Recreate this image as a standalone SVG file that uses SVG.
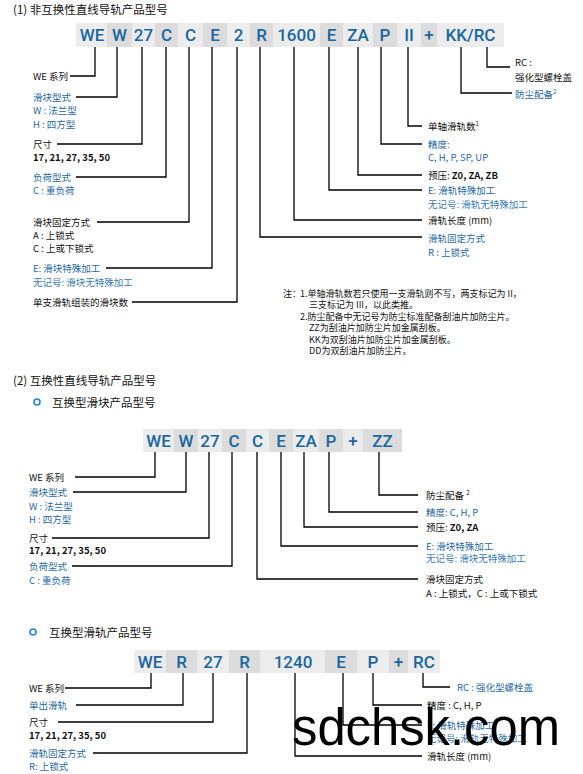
<svg xmlns="http://www.w3.org/2000/svg" width="583" height="774" viewBox="0 0 583 774">
<defs>
<style>
.bg{fill:#ffffff}
.cl{fill:#ececec}
.cd{fill:#dcdcdc}
.code{font-family:Roboto,"Liberation Sans",sans-serif;font-size:17px;font-weight:500;fill:#1a67a0;text-anchor:middle}
.t{font-family:"Noto Sans CJK SC","Noto Sans",sans-serif;font-size:9.5px;dominant-baseline:central}
.k{fill:#111111}
.b{fill:#1f6aa5}
.b2{fill:#3a7cb0}
.n{font-weight:bold}
.h{font-family:"Noto Sans CJK SC","Noto Sans",sans-serif;font-size:11.5px;fill:#111111;dominant-baseline:central}
.note{font-family:"Noto Sans CJK SC","Noto Sans",sans-serif;font-size:9px;fill:#111111;dominant-baseline:central}
.ln{fill:none;stroke:#000000;stroke-width:1.3}
.sup{font-size:6px}
.wm{font-family:"Liberation Sans",Arial,sans-serif;font-size:51px;fill:#000000}
</style>
</defs>
<rect class="bg" x="0" y="0" width="583" height="774"/>

<!-- Section 1 -->
<text id="title1" class="h" x="13" y="9">(1) 非互换性直线导轨产品型号</text>

<g id="row1-codes">
<g id="r1-WE"><rect class="cl" x="76" y="23" width="31" height="24"/><text class="code" x="92" y="41">WE</text></g>
<g id="r1-W"><rect class="cd" x="107" y="23" width="25" height="24"/><text class="code" x="119.5" y="41">W</text></g>
<g id="r1-27"><rect class="cl" x="132" y="23" width="23" height="24"/><text class="code" x="143.5" y="41">27</text></g>
<g id="r1-C1"><rect class="cd" x="155" y="23" width="23" height="24"/><text class="code" x="166.5" y="41">C</text></g>
<g id="r1-C2"><rect class="cl" x="178" y="23" width="25" height="24"/><text class="code" x="190.5" y="41">C</text></g>
<g id="r1-E"><rect class="cd" x="203" y="23" width="24" height="24"/><text class="code" x="215" y="41">E</text></g>
<g id="r1-2"><rect class="cl" x="227" y="23" width="23" height="24"/><text class="code" x="238.5" y="41">2</text></g>
<g id="r1-R"><rect class="cd" x="250" y="23" width="23" height="24"/><text class="code" x="261.5" y="41">R</text></g>
<g id="r1-1600"><rect class="cl" x="273" y="23" width="47" height="24"/><text class="code" x="296.5" y="41">1600</text></g>
<g id="r1-E2"><rect class="cd" x="320" y="23" width="23" height="24"/><text class="code" x="331.5" y="41">E</text></g>
<g id="r1-ZA"><rect class="cl" x="343" y="23" width="30" height="24"/><text class="code" x="358" y="41">ZA</text></g>
<g id="r1-P"><rect class="cd" x="373" y="23" width="24" height="24"/><text class="code" x="385" y="41">P</text></g>
<g id="r1-II"><rect class="cl" x="397" y="23" width="24" height="24"/><text class="code" x="409" y="41">II</text></g>
<g id="r1-plus"><rect class="cd" x="421" y="23" width="16" height="24"/><text class="code" x="429" y="41">+</text></g>
<g id="r1-KKRC"><rect class="cl" x="437" y="23" width="67" height="24"/><text class="code" x="470.5" y="41">KK/RC</text></g>
</g>

<g id="r1-labels">
<g id="l1-we"><text class="t k" x="33" y="76">WE 系列</text></g>
<g id="l1-type"><text class="t b" x="33" y="97">滑块型式</text><text class="t b" x="33" y="110">W : 法兰型</text><text class="t b" x="33" y="124">H : 四方型</text></g>
<g id="l1-size"><text class="t k" x="33" y="144">尺寸</text><text class="t k n" x="33" y="157">17, 21, 27, 35, 50</text></g>
<g id="l1-load"><text class="t b" x="33" y="177">负荷型式</text><text class="t b" x="33" y="190">C : 重负荷</text></g>
<g id="l1-fix"><text class="t k" x="33" y="222">滑块固定方式</text><text class="t k" x="33" y="235">A : 上锁式</text><text class="t k" x="33" y="248">C : 上或下锁式</text></g>
<g id="l1-e"><text class="t b" x="33" y="268">E: 滑块特殊加工</text><text class="t b2" x="33" y="282">无记号: 滑块无特殊加工</text></g>
<g id="l1-num"><text class="t k" x="33" y="302">单支滑轨组装的滑块数</text></g>

<g id="r1-rc"><text class="t k" x="515" y="62">RC :</text><text class="t k" x="515" y="77">强化型螺栓盖</text></g>
<g id="r1-dust"><text class="t b" x="515" y="94">防尘配备<tspan class="sup" dy="-3">2</tspan></text></g>
<g id="r1-rails"><text class="t k" x="428" y="126">单轴滑轨数<tspan class="sup" dy="-3">1</tspan></text></g>
<g id="r1-acc"><text class="t b" x="428" y="144">精度:</text><text class="t b" x="428" y="157">C, H, P, SP, UP</text></g>
<g id="r1-pre"><text class="t k" x="428" y="175">预压: <tspan class="n">Z0, ZA, ZB</tspan></text></g>
<g id="r1-e"><text class="t b" x="428" y="190">E: 滑轨特殊加工</text><text class="t b2" x="428" y="204">无记号: 滑轨无特殊加工</text></g>
<g id="r1-len"><text class="t k" x="428" y="220">滑轨长度 (mm)</text></g>
<g id="r1-rfix"><text class="t b" x="428" y="238">滑轨固定方式</text><text class="t b" x="428" y="252">R : 上锁式</text></g>
</g>

<g id="notes">
<text class="note" x="283" y="293">注：</text>
<text class="note" x="300" y="293">1.单轴滑轨数若只使用一支滑轨则不写，两支标记为 II，</text>
<text class="note" x="309" y="304.5">三支标记为 III，以此类推。</text>
<text class="note" x="300" y="316">2.防尘配备中无记号为防尘标准配备刮油片加防尘片。</text>
<text class="note" x="309" y="327.5">ZZ为刮油片加防尘片加金属刮板。</text>
<text class="note" x="309" y="339">KK为双刮油片加防尘片加金属刮板。</text>
<text class="note" x="309" y="350.5">DD为双刮油片加防尘片。</text>
</g>

<!-- Section 2 -->
<text id="title2" class="h" x="13" y="380">(2) 互换性直线导轨产品型号</text>
<g id="sub2"><circle cx="37" cy="402" r="3" fill="none" stroke="#1a8ad4" stroke-width="1.6"/><text class="h" x="52" y="402">互换型滑块产品型号</text></g>

<g id="row2-codes">
<g id="r2-WE"><rect class="cl" x="143" y="429" width="31" height="23"/><text class="code" x="158.5" y="446.5">WE</text></g>
<g id="r2-W"><rect class="cd" x="174" y="429" width="24" height="23"/><text class="code" x="186" y="446.5">W</text></g>
<g id="r2-27"><rect class="cl" x="198" y="429" width="24" height="23"/><text class="code" x="210" y="446.5">27</text></g>
<g id="r2-C1"><rect class="cd" x="222" y="429" width="24" height="23"/><text class="code" x="234" y="446.5">C</text></g>
<g id="r2-C2"><rect class="cl" x="246" y="429" width="23" height="23"/><text class="code" x="257.5" y="446.5">C</text></g>
<g id="r2-E"><rect class="cd" x="269" y="429" width="24" height="23"/><text class="code" x="281" y="446.5">E</text></g>
<g id="r2-ZA"><rect class="cl" x="293" y="429" width="26" height="23"/><text class="code" x="306" y="446.5">ZA</text></g>
<g id="r2-P"><rect class="cd" x="319" y="429" width="24" height="23"/><text class="code" x="331" y="446.5">P</text></g>
<g id="r2-plus"><rect class="cl" x="343" y="429" width="20" height="23"/><text class="code" x="353" y="446.5">+</text></g>
<g id="r2-ZZ"><rect class="cd" x="363" y="429" width="39" height="23"/><text class="code" x="382.5" y="446.5">ZZ</text></g>
</g>

<g id="r2-labels">
<g id="l2-we"><text class="t k" x="29" y="477">WE 系列</text></g>
<g id="l2-type"><text class="t b" x="29" y="492">滑块型式</text><text class="t b" x="29" y="506">W : 法兰型</text><text class="t b" x="29" y="519">H : 四方型</text></g>
<g id="l2-size"><text class="t k" x="29" y="538">尺寸</text><text class="t k n" x="29" y="550">17, 21, 27, 35, 50</text></g>
<g id="l2-load"><text class="t b" x="29" y="566">负荷型式</text><text class="t b" x="29" y="580">C : 重负荷</text></g>
<g id="r2-dust"><text class="t k" x="426" y="495">防尘配备 <tspan class="sup" dy="-3">2</tspan></text></g>
<g id="r2-acc"><text class="t b" x="426" y="512">精度: C, H, P</text></g>
<g id="r2-pre"><text class="t k" x="426" y="527">预压: <tspan class="n">Z0, ZA</tspan></text></g>
<g id="r2-e"><text class="t b" x="426" y="546">E: 滑块特殊加工</text><text class="t b2" x="426" y="558">无记号: 滑块无特殊加工</text></g>
<g id="r2-fix"><text class="t k" x="426" y="579">滑块固定方式</text><text class="t k" x="426" y="593">A : 上锁式，C : 上或下锁式</text></g>
</g>

<!-- Section 3 -->
<g id="sub3"><circle cx="33" cy="632" r="3" fill="none" stroke="#1a8ad4" stroke-width="1.6"/><text class="h" x="49" y="632">互换型滑轨产品型号</text></g>

<g id="row3-codes">
<g id="r3-WE"><rect class="cl" x="134" y="650" width="32" height="23"/><text class="code" x="150" y="667.5">WE</text></g>
<g id="r3-R"><rect class="cd" x="166" y="650" width="31" height="23"/><text class="code" x="181.5" y="667.5">R</text></g>
<g id="r3-27"><rect class="cl" x="197" y="650" width="32" height="23"/><text class="code" x="213" y="667.5">27</text></g>
<g id="r3-R2"><rect class="cd" x="229" y="650" width="31" height="23"/><text class="code" x="244.5" y="667.5">R</text></g>
<g id="r3-1240"><rect class="cl" x="260" y="650" width="65" height="23"/><text class="code" x="293" y="667.5">1240</text></g>
<g id="r3-E"><rect class="cd" x="325" y="650" width="32" height="23"/><text class="code" x="341" y="667.5">E</text></g>
<g id="r3-P"><rect class="cl" x="357" y="650" width="32" height="23"/><text class="code" x="373" y="667.5">P</text></g>
<g id="r3-plus"><rect class="cd" x="389" y="650" width="19" height="23"/><text class="code" x="398.5" y="667.5">+</text></g>
<g id="r3-RC"><rect class="cl" x="408" y="650" width="32" height="23"/><text class="code" x="424" y="667.5">RC</text></g>
</g>

<g id="r3-labels">
<g id="l3-we"><text class="t k" x="29" y="688">WE 系列</text></g>
<g id="l3-single"><text class="t b" x="29" y="705">单出滑轨</text></g>
<g id="l3-size"><text class="t k" x="29" y="722">尺寸</text><text class="t k n" x="29" y="735">17, 21, 27, 35, 50</text></g>
<g id="l3-fix"><text class="t b" x="29" y="753">滑轨固定方式</text><text class="t b" x="29" y="766">R: 上锁式</text></g>
<g id="r3-rc"><text class="t b" x="457" y="687">RC : 强化型螺栓盖</text></g>
<g id="r3-acc"><text class="t k" x="427" y="705">精度 : C, H, P</text></g>
<g id="r3-e"><text class="t b" x="427" y="725">E: 滑轨特殊加工</text><text class="t b2" x="427" y="738">无记号: 滑轨无特殊加工</text></g>
<g id="r3-len"><text class="t k" x="427" y="756">滑轨长度 (mm)</text></g>
</g>

<g id="connectors">
<path class="ln" d="M95,47 V76 H70"/>
<path class="ln" d="M117,47 V97 H76"/>
<path class="ln" d="M142,47 V144 H57"/>
<path class="ln" d="M166,47 V177 H76"/>
<path class="ln" d="M189,47 V222 H97"/>
<path class="ln" d="M212,47 V268 H106"/>
<path class="ln" d="M237,47 V302 H132"/>
<path class="ln" d="M260,47 V237 H422"/>
<path class="ln" d="M294,47 V220 H422"/>
<path class="ln" d="M329,47 V190 H422"/>
<path class="ln" d="M358,47 V175 H422"/>
<path class="ln" d="M381,47 V144 H422"/>
<path class="ln" d="M408,47 V126 H422"/>
<path class="ln" d="M461,47 V93 H512"/>
<path class="ln" d="M487,47 V67 H510"/>

<path class="ln" d="M155,452 V477 H75"/>
<path class="ln" d="M186,452 V492 H73"/>
<path class="ln" d="M209,452 V538 H52"/>
<path class="ln" d="M232,452 V566 H72"/>
<path class="ln" d="M257,452 V579 H418"/>
<path class="ln" d="M281,452 V546 H418"/>
<path class="ln" d="M304,452 V527 H418"/>
<path class="ln" d="M329,452 V512 H418"/>
<path class="ln" d="M379,452 V495 H418"/>

<path class="ln" d="M151,673 V688 H65"/>
<path class="ln" d="M183,673 V705 H76"/>
<path class="ln" d="M213,673 V722 H58"/>
<path class="ln" d="M247,673 V753 H93"/>
<path class="ln" d="M423,673 V687 H450"/>
<path class="ln" d="M373,673 V705 H422"/>
<path class="ln" d="M343,673 V725 H422"/>
<path class="ln" d="M295,673 V756 H422"/>
</g>

<text id="watermark" class="wm" x="292" y="745" textLength="268" lengthAdjust="spacingAndGlyphs">sdchsk.com</text>
</svg>
